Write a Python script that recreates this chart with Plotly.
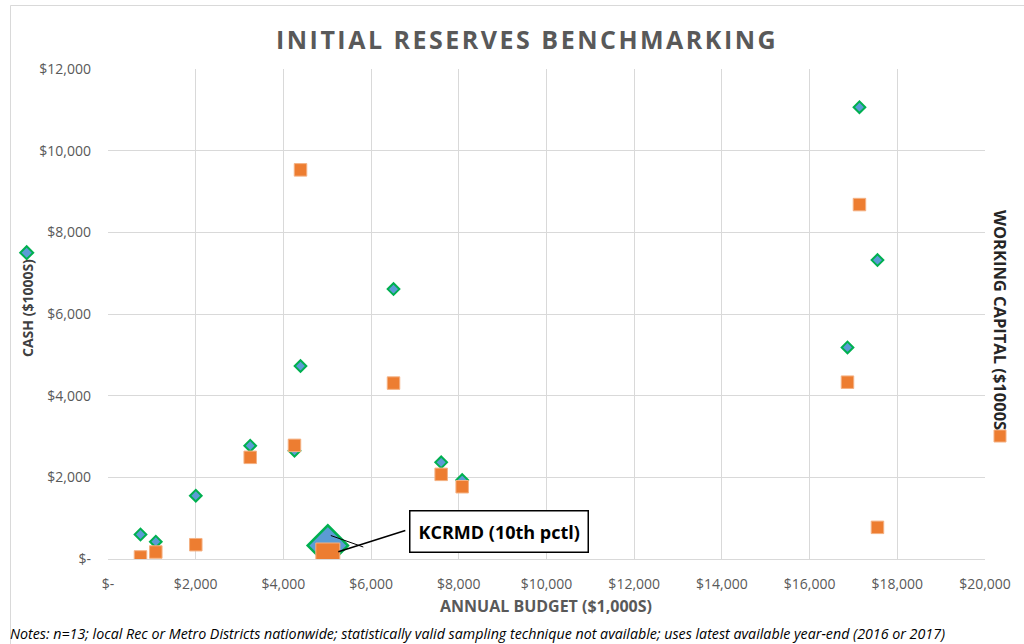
import plotly.graph_objects as go

# ---- data ----
budget = [741, 1090, 2002, 3243, 4253, 4390, 6511, 7598, 8077, 16864, 17137, 17548]
cash = [600, 424, 1550, 2774, 2651, 4725, 6610, 2367, 1934, 5180, 11065, 7320]
working_capital = [50, 171, 350, 2490, 2783, 9530, 4308, 2073, 1770, 4330, 8680, 775]
kcrmd_budget = [5013]
kcrmd_cash = [330]
kcrmd_wc = [98]
kcrmd_label = "KCRMD (10th pctl)"

x_tick_vals = [0, 2000, 4000, 6000, 8000, 10000, 12000, 14000, 16000, 18000, 20000]
x_tick_text = ["$-", "$2,000", "$4,000", "$6,000", "$8,000", "$10,000", "$12,000",
               "$14,000", "$16,000", "$18,000", "$20,000"]
y_tick_vals = [0, 2000, 4000, 6000, 8000, 10000, 12000]
y_tick_text = ["$-", "$2,000", "$4,000", "$6,000", "$8,000", "$10,000", "$12,000"]

title_text = "INITIAL RESERVES BENCHMARKING"
x_title = "ANNUAL BUDGET ($1,000S)"
y_title = "CASH ($1000S)"
y2_title = "WORKING CAPITAL ($1000S"
notes = ("Notes: n=13; local Rec or Metro Districts nationwide; statistically valid sampling "
         "technique not available; uses latest available year-end (2016 or 2017)")

# ---- style ----
W, H = 1024, 644
ML, MR, MT, MB = 108, 39, 69, 85
PW, PH = W - ML - MR, H - MT - MB
BLUE = "#5B9BD5"
GREEN = "#00B050"
ORANGE = "#ED7D31"
GRID = "#D9D9D9"
GRAY = "#595959"
FONT = "Open Sans"


def px(xp):
    return (xp - ML) / PW


def py(yp):
    return (H - MB - yp) / PH


def spaced(s):
    # emulate the letter spacing of the original title
    return "\u200a".join(s)


fig = go.Figure()
fig.add_trace(go.Scatter(
    x=budget, y=cash, mode="markers", name="Cash",
    marker=dict(symbol="diamond", size=9, color=BLUE, line=dict(color=GREEN, width=2)),
))
fig.add_trace(go.Scatter(
    x=budget, y=working_capital, mode="markers", name="Working capital",
    marker=dict(symbol="square", size=12.5, color=ORANGE, line=dict(color="#F4B183", width=1)),
))
fig.add_trace(go.Scatter(
    x=kcrmd_budget, y=kcrmd_cash, mode="markers", name="KCRMD cash",
    marker=dict(symbol="diamond", size=31, color=BLUE, line=dict(color=GREEN, width=2.5)),
))
fig.add_trace(go.Scatter(
    x=kcrmd_budget, y=kcrmd_wc, mode="markers", name="KCRMD working capital",
    marker=dict(symbol="square", size=24, color=ORANGE, line=dict(color="#F4B183", width=1)),
))

axis_font = dict(family=FONT, size=14, color=GRAY)
fig.update_xaxes(range=[0, 20000], tickvals=x_tick_vals, ticktext=x_tick_text,
                 showgrid=True, gridcolor=GRID, gridwidth=1, zeroline=False,
                 showline=True, linecolor=GRID, linewidth=1, mirror=False,
                 tickfont=axis_font, ticks="", ticklabelstandoff=12, fixedrange=True)
fig.update_yaxes(range=[0, 12000], tickvals=y_tick_vals, ticktext=y_tick_text,
                 showgrid=True, gridcolor=GRID, gridwidth=1, zeroline=False,
                 showline=False, tickfont=axis_font, ticks="", ticklabelstandoff=16,
                 fixedrange=True)

annotations = [
    dict(text="<b>" + spaced(title_text) + "</b>", xref="paper", yref="paper",
         x=px(525.5), y=py(39), xanchor="center", yanchor="middle", showarrow=False,
         font=dict(family=FONT, size=25, color=GRAY)),
    dict(text="<b>" + x_title + "</b>", xref="paper", yref="paper",
         x=px(546), y=py(606), xanchor="center", yanchor="middle", showarrow=False,
         font=dict(family=FONT, size=16, color=GRAY)),
    dict(text="<b>" + y_title + "</b>", xref="paper", yref="paper", textangle=-90,
         x=px(27), y=py(308), xanchor="center", yanchor="middle", showarrow=False,
         font=dict(family=FONT, size=14, color="#404040")),
    dict(text="<b>" + y2_title + "</b>", xref="paper", yref="paper", textangle=90,
         x=px(1001), y=py(320), xanchor="center", yanchor="middle", showarrow=False,
         font=dict(family=FONT, size=16.5, color="#262626")),
    dict(text="<i>" + notes + "</i>", xref="paper", yref="paper",
         x=px(8), y=py(633), xanchor="left", yanchor="middle", showarrow=False,
         font=dict(family=FONT, size=14.25, color="#000000")),
    # KCRMD label box (positioned relative to the KCRMD point)
    dict(text="<b>" + kcrmd_label + "</b>", x=kcrmd_budget[0], y=kcrmd_wc[0],
         xref="x", yref="y", showarrow=True, arrowhead=0, arrowwidth=0.1,
         arrowcolor="rgba(0,0,0,0)", ax=171, ay=-24,
         bordercolor="#000000", borderwidth=1.5, borderpad=8, bgcolor="#FFFFFF",
         font=dict(family=FONT, size=18, color="#000000")),
    # leader line to the working-capital square
    dict(text=" ", x=kcrmd_budget[0], y=kcrmd_wc[0], xref="x", yref="y",
         showarrow=True, arrowhead=0, arrowwidth=1.5, arrowcolor="#000000",
         ax=79, ay=-25, standoff=11, font=dict(size=1)),
    # thin leader line to the cash diamond
    dict(text=" ", x=kcrmd_budget[0], y=kcrmd_cash[0], xref="x", yref="y",
         showarrow=True, arrowhead=0, arrowwidth=1, arrowcolor="#000000",
         ax=34, ay=12, xshift=3, yshift=10, font=dict(size=1)),
]

# legend-like markers beside the axis titles
dx, dy = 6.5, 6.5
diamond_path = "M {} {} L {} {} L {} {} L {} {} Z".format(
    px(26.7), py(252.7 - dy), px(26.7 + dx), py(252.7),
    px(26.7), py(252.7 + dy), px(26.7 - dx), py(252.7))
shapes = [
    dict(type="path", xref="paper", yref="paper", path=diamond_path,
         fillcolor=BLUE, line=dict(color=GREEN, width=2)),
    dict(type="rect", xref="paper", yref="paper",
         x0=px(994), x1=px(1006), y0=py(430), y1=py(442),
         fillcolor=ORANGE, line=dict(color="#F4B183", width=1)),
    # chart outer border
    dict(type="rect", xref="paper", yref="paper",
         x0=px(10.5), x1=px(1030), y0=py(5.5), y1=py(660),
         line=dict(color=GRID, width=1), fillcolor="rgba(0,0,0,0)", layer="below"),
]

fig.update_layout(
    width=W, height=H, margin=dict(l=ML, r=MR, t=MT, b=MB, pad=0),
    paper_bgcolor="#FFFFFF", plot_bgcolor="#FFFFFF", showlegend=False,
    annotations=annotations, shapes=shapes, font=dict(family=FONT),
)

fig.write_html("out.html", config={"displayModeBar": False})
